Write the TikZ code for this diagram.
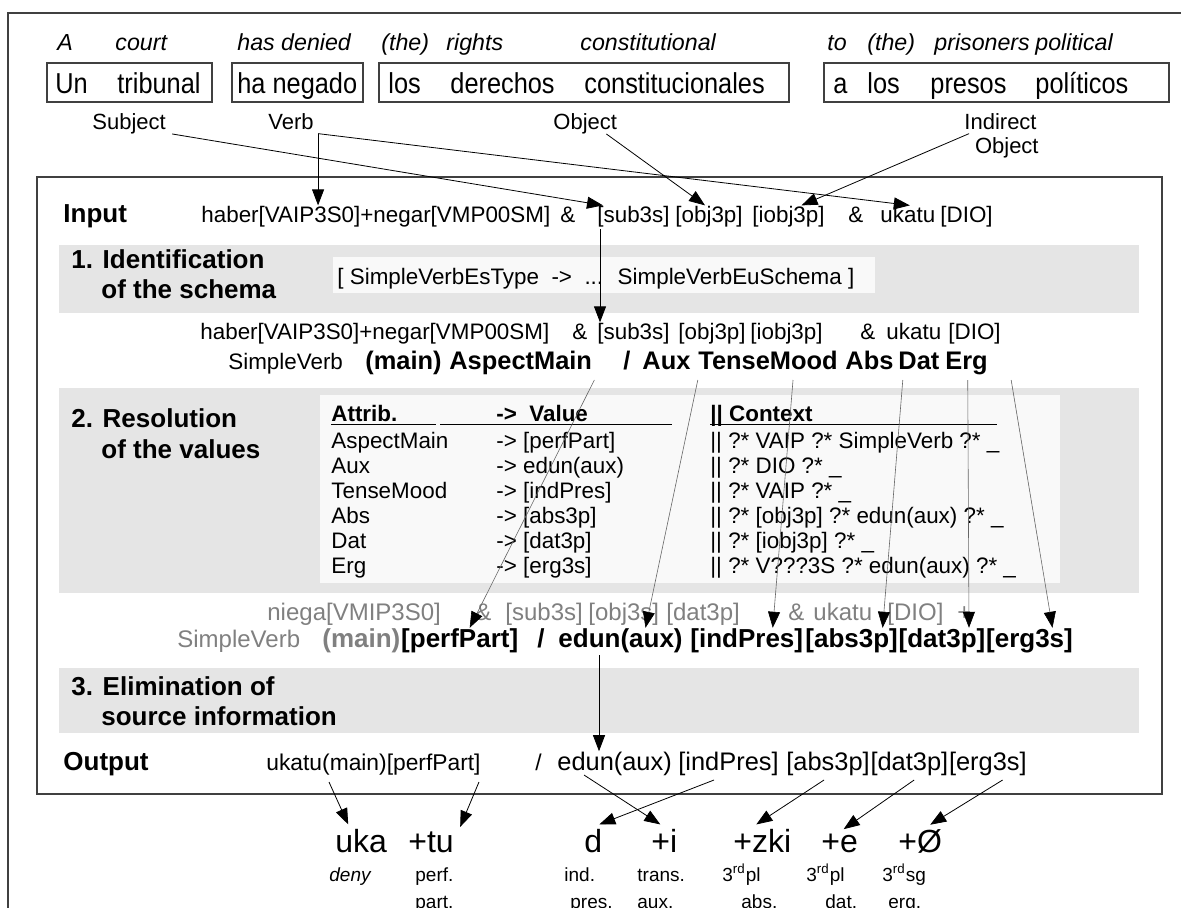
\documentclass[tikz,border=0pt]{standalone}
\usepackage{fontspec}
\setmainfont{Liberation Sans}
\newfontfamily\esfont{Liberation Sans}[FakeStretch=0.88]
\usepackage{tikz}
\usetikzlibrary{arrows.meta}

\tikzset{
  tok/.style={inner sep=0pt, anchor=base west},
  gloss/.style={tok, font=\fontsize{11.6}{14}\selectfont\itshape},
  es/.style={tok, font=\esfont\fontsize{14.4}{17}\selectfont},
  role/.style={tok, font=\fontsize{11}{13}\selectfont},
  src/.style={tok, font=\fontsize{11.2}{13}\selectfont},
  attr/.style={tok, font=\fontsize{12.7}{15}\selectfont\bfseries},
  steptitle/.style={tok, font=\fontsize{13}{15}\selectfont\bfseries},
  tab/.style={tok, font=\fontsize{11.2}{13}\selectfont},
  tabhead/.style={tok, font=\fontsize{11.2}{13}\selectfont\bfseries},
  tgt/.style={tok, font=\fontsize{12}{14}\selectfont, text=gray},
  val/.style={tok, font=\fontsize{13}{15}\selectfont\bfseries},
  outp/.style={tok, font=\fontsize{11.4}{14}\selectfont},
  outpr/.style={tok, font=\fontsize{12.7}{15}\selectfont},
  morph/.style={tok, font=\fontsize{16}{18}\selectfont},
  gl/.style={tok, font=\fontsize{9.5}{11}\selectfont},
  arr/.style={line width=0.4pt, -{Triangle[length=8pt,width=6pt]}},
  arrthin/.style={line width=0.3pt, draw=black!60, -{Triangle[length=8pt,width=6pt,color=black]}},
  band/.style={fill=gray!20},
  whitebox/.style={fill=gray!5},
  frame/.style={draw=black!75, line width=0.6pt},
}

\begin{document}
\begin{tikzpicture}[x=0.5pt,y=-0.5pt]
\useasboundingbox (0,0) rectangle (1181,907);
\clip (0,0) rectangle (1181,907);
% Outer frame
\draw[frame] (8,1000) -- (8,13) -- (1200,13);
% English gloss
\node[gloss] (gA) at (57,50) {A};
\node[gloss] (gCourt) at (115,50) {court};
\node[gloss] (gDenied) at (237,50) {has denied};
\node[gloss] (gThe1) at (381,50) {(the)};
\node[gloss] (gRights) at (446,50) {rights};
\node[gloss] (gConst) at (580,50) {constitutional};
\node[gloss] (gTo) at (827,50) {to};
\node[gloss] (gThe2) at (867,50) {(the)};
\node[gloss] (gPrison) at (934,50) {prisoners};
\node[gloss] (gPolit) at (1035,50) {political};
% Spanish sentence
\draw[frame] (47,63) rectangle (212,102);
\draw[frame] (232,63) rectangle (363,102);
\draw[frame] (379,63) rectangle (789,102);
\draw[frame] (824,63) rectangle (1169,102);
\node[es] (eUn) at (55,93) {Un};
\node[es] (eTrib) at (117,93) {tribunal};
\node[es] (eNeg) at (237,93) {ha negado};
\node[es] (eLos1) at (388,93) {los};
\node[es] (eDer) at (450,93) {derechos};
\node[es] (eConst) at (584,93) {constitucionales};
\node[es] (eA) at (833,93) {a};
\node[es] (eLos2) at (867,93) {los};
\node[es] (ePres) at (930,93) {presos};
\node[es] (ePol) at (1035,93) {políticos};
% Roles
\node[role] (lSubj) at (92,129) {Subject};
\node[role] (lVerb) at (268,129) {Verb};
\node[role] (lObj) at (553,129) {Object};
\node[role, anchor=base east] (lInd) at (1037,129) {Indirect};
\node[role, anchor=base east] (lIndObj) at (1039,153) {Object};
% Inner box and bands
\draw[frame, fill=white] (37,177) rectangle (1162,794);
\fill[band] (59,245) rectangle (1139,313);
\fill[band] (59,388) rectangle (1139,593);
\fill[band] (59,668) rectangle (1139,733);
\fill[whitebox] (333,257) rectangle (875,293);
\fill[whitebox] (320,395) rectangle (1060,583);
% Input
\node[steptitle] (inp) at (63,222) {Input};
\node[src] (habIn) at (201,222) {haber[VAIP3S0]+negar[VMP00SM]};
\node[src] (ampIn1) at (560,222) {\&};
\node[src] (subIn) at (597,222) {[sub3s]};
\node[src] (objIn) at (675,222) {[obj3p]};
\node[src] (iobjIn) at (752,222) {[iobj3p]};
\node[src] (ampIn2) at (848,222) {\&};
\node[src] (ukaIn) at (880,222) {ukatu};
\node[src] (dioIn) at (940,222) {[DIO]};
% 1. Identification
\node[steptitle] (s1a) at (71,268) {1. Identification};
\node[steptitle] (s1b) at (101,298) {of the schema};
\node[src] (schema) at (337,284) {[ SimpleVerbEsType \ -> \ ... \ SimpleVerbEuSchema ]};
\node[src] (habMid) at (200,339) {haber[VAIP3S0]+negar[VMP00SM]};
\node[src] (ampMid1) at (572,339) {\&};
\node[src] (subMid) at (597,339) {[sub3s]};
\node[src] (objMid) at (678,339) {[obj3p]};
\node[src] (iobjMid) at (750,339) {[iobj3p]};
\node[src] (ampMid2) at (860,339) {\&};
\node[src] (ukaMid) at (886,339) {ukatu};
\node[src] (dioMid) at (948,339) {[DIO]};
\node[src] (svA) at (228,369) {SimpleVerb};
\node[attr] (mainA) at (365,369) {(main)};
\node[attr] (aspA) at (449,369) {AspectMain};
\node[attr] (slA) at (623,369) {/};
\node[attr] (auxA) at (642,369) {Aux};
\node[attr] (tmA) at (698,369) {TenseMood};
\node[attr] (absA) at (845,369) {Abs};
\node[attr] (datA) at (898,369) {Dat};
\node[attr] (ergA) at (945,369) {Erg};
% 2. Resolution
\node[steptitle] (s2a) at (71,427) {2. Resolution};
\node[steptitle] (s2b) at (101,458) {of the values};
\node[tabhead] (hAttr) at (331,421) {Attrib.};
\node[tabhead] (hVal) at (496,421) {-> \ Value};
\node[tabhead] (hCtx) at (710,421) {|| Context};
\draw[line width=0.5pt] ([yshift=-1.5pt]hAttr.base west) -- ++(105,0);
\draw[line width=0.5pt] ([shift={(-56,3)}]hVal.base west) -- ++(232,0);
\draw[line width=0.5pt] ([yshift=-1.5pt]hCtx.base west) -- ++(287,0);
\node[tab] (a1) at (331,448) {AspectMain};
\node[tab] (a2) at (331,473) {Aux};
\node[tab] (a3) at (331,498) {TenseMood};
\node[tab] (a4) at (331,523) {Abs};
\node[tab] (a5) at (331,548) {Dat};
\node[tab] (a6) at (331,573) {Erg};
\node[tab] (v1) at (496,448) {-> [perfPart]};
\node[tab] (v2) at (496,473) {-> edun(aux)};
\node[tab] (v3) at (496,498) {-> [indPres]};
\node[tab] (v4) at (496,523) {-> [abs3p]};
\node[tab] (v5) at (496,548) {-> [dat3p]};
\node[tab] (v6) at (496,573) {-> [erg3s]};
\node[tab] (c1) at (710,448) {|| ?* VAIP ?* SimpleVerb ?* \_};
\node[tab] (c2) at (710,473) {|| ?* DIO ?* \_};
\node[tab] (c3) at (710,498) {|| ?* VAIP ?* \_};
\node[tab] (c4) at (710,523) {|| ?* [obj3p] ?* edun(aux) ?* \_};
\node[tab] (c5) at (710,548) {|| ?* [iobj3p] ?* \_};
\node[tab] (c6) at (710,573) {|| ?* V???3S ?* edun(aux) ?* \_};
\node[tgt] (niega) at (267,620) {niega[VMIP3S0]};
\node[tgt] (ampT1) at (475,620) {\&};
\node[tgt] (subT) at (505,620) {[sub3s]};
\node[tgt] (objT) at (588,620) {[obj3s]};
\node[tgt] (datT) at (666,620) {[dat3p]};
\node[tgt] (ampT2) at (788,620) {\&};
\node[tgt] (ukaT) at (813,620) {ukatu};
\node[tgt] (dioT) at (887,620) {[DIO]};
\node[tgt] (plusT) at (957,620) {+};
\node[tgt] (svB) at (177,647) {SimpleVerb};
\node[val, text=gray] (mainB) at (322,647) {(main)};
\node[val] (perfB) at (mainB.base east) {[perfPart]};
\node[val] (slB) at (537,647) {/};
\node[val] (edunB) at (558,647) {edun(aux)};
\node[val] (indB) at (690,647) {[indPres]};
\node[val] (absB) at (805,647) {[abs3p]};
\node[val] (datB) at (absB.base east) {[dat3p]};
\node[val] (ergB) at (datB.base east) {[erg3s]};
% 3. Elimination
\node[steptitle] (s3a) at (71,695) {3. Elimination of};
\node[steptitle] (s3b) at (101,725) {source information};
% Output
\node[steptitle] (outl) at (63,770) {Output};
\node[outp] (ukmO) at (266,770) {ukatu(main)[perfPart]};
\node[outp] (slO) at (535,770) {/};
\node[outpr] (edunO) at (557,770) {edun(aux)};
\node[outpr] (indO) at (678,770) {[indPres]};
\node[outpr] (absO) at (786,770) {[abs3p]};
\node[outpr] (datO) at (absO.base east) {[dat3p]};
\node[outpr] (ergO) at (datO.base east) {[erg3s]};
% Basque morphemes
\node[morph] (mUka) at (335,852) {uka};
\node[morph] (mTu) at (408,852) {+tu};
\node[morph] (mD) at (584,852) {d};
\node[morph] (mI) at (651,852) {+i};
\node[morph] (mZki) at (733,852) {+zki};
\node[morph] (mE) at (821,852) {+e};
\node[morph] (mZero) at (898,852) {+Ø};
\node[gl, font=\fontsize{9.5}{11}\selectfont\itshape] (gDeny) at (329,881) {deny};
\node[gl] (gPerf) at (415,881) {perf.};
\node[gl] (gPart) at (415,908) {part.};
\node[gl] (gInd) at (564,881) {ind.};
\node[gl] (gPres) at (570,908) {pres.};
\node[gl] (gTrans) at (637,881) {trans.};
\node[gl] (gAux) at (637,908) {aux.};
\node[gl] (gPl1) at (722,881) {3\textsuperscript{rd}pl};
\node[gl] (gAbs) at (741,908) {abs.};
\node[gl] (gPl2) at (806,881) {3\textsuperscript{rd}pl};
\node[gl] (gDat) at (825,908) {dat.};
\node[gl] (gSg) at (882,881) {3\textsuperscript{rd}sg};
\node[gl] (gErg) at (888,908) {erg.};
% Roles to input
\coordinate (vj) at ([shift={(4,4)}]lVerb.south east);
\draw[arr] ([shift={(6,0)}]lSubj.south east) -- ([shift={(6,0)}]subIn.north west);
\draw[arr] (vj) -- (vj |- habIn.north);
\draw[arr] (vj) -- ([shift={(2,0)}]ukaIn.north);
\draw[arr] ([shift={(-11,0)}]lObj.south east) -- ([shift={(-4,0)}]objIn.north);
\draw[arr] ([shift={(5,4)}]lInd.south west) -- ([shift={(13,0)}]iobjIn.north);
\draw[arr] ([shift={(3,2)}]subIn.south west) -- ([shift={(3,0)}]subMid.north west);
% Attributes to values
\draw[arrthin] ([shift={(2,11)}]aspA.base east) -- ([shift={(10,0)}]perfB.north);
\draw[arrthin] ([shift={(7,11)}]auxA.base east) -- ([shift={(25,0)}]edunB.north);
\draw[arrthin] ([shift={(25,11)}]tmA.base) -- ([shift={(26,0)}]indB.north);
\draw[arrthin] ([shift={(9,11)}]absA.base east) -- ([shift={(31,0)}]absB.north);
\draw[arrthin] ([shift={(28,11)}]datA.base east) -- ([shift={(27,0)}]datB.north);
\draw[arrthin] ([shift={(23,11)}]ergA.base east) -- ([shift={(23,0)}]ergB.north);
\draw[arr] ([shift={(41,8)}]edunB.base west) -- ([shift={(42,0)}]edunO.north west);
% Output to morphemes
\draw[arr] ([shift={(63,12)}]ukmO.base west) -- ([shift={(-13,-4)}]mUka.north);
\draw[arr] ([shift={(-2,12)}]ukmO.base east) -- ([shift={(6,-4)}]mTu.north east);
\draw[arr] ([shift={(27,5)}]edunO.base west) -- ([shift={(-4,-4)}]mI.north);
\draw[arr] ([shift={(36,10)}]indO.base west) -- ([shift={(6,-4)}]mD.north);
\draw[arr] ([shift={(38,10)}]absO.base west) -- ([shift={(-6,-4)}]mZki.north);
\draw[arr] ([shift={(44,10)}]datO.base west) -- ([shift={(4,-4)}]mE.north);
\draw[arr] ([shift={(54,10)}]ergO.base west) -- ([shift={(10,-4)}]mZero.north);
\end{tikzpicture}
\end{document}
